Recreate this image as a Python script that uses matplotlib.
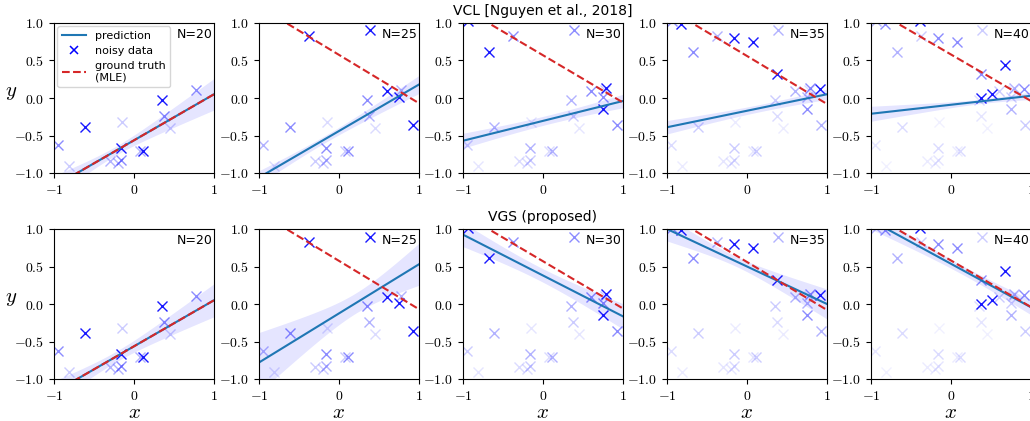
import matplotlib.pyplot as plt
import numpy as np
from matplotlib.ticker import FuncFormatter

plt.rcParams['mathtext.fontset'] = 'cm'

# number of observed points shown in each column
sizes = [20, 25, 30, 35, 40]

# noisy observations, oldest first; batch = step at which the point arrived
data_x = [-0.15, -0.81, 0.45,
          -0.20, 0.08, -0.30,
          -0.95, 0.38, -0.16, 0.77,
          0.35, -0.16, 0.11, -0.61,
          -0.37, 0.39, 0.75, 0.93, 0.60,
          -0.67, 0.75, 0.79, -0.94,
          -0.16, 0.07, 0.38, 0.91, -0.82,
          0.375, 0.51, 0.67, -0.39]
data_y = [-0.32, -0.90, -0.40,
          -0.86, -0.71, -0.84,
          -0.63, -0.24, -0.83, 0.11,
          -0.02, -0.67, -0.70, -0.38,
          0.83, 0.90, 0.01, -0.36, 0.10,
          0.61, -0.14, 0.14, 1.02,
          0.80, 0.75, 0.32, 0.12, 0.99,
          0.0, 0.06, 0.44, 1.02]
batch = [0, 0, 0,
         1, 1, 1,
         2, 2, 2, 2,
         3, 3, 3, 3,
         4, 4, 4, 4, 4,
         5, 5, 5, 5,
         6, 6, 6, 6, 6,
         7, 7, 7, 7]
age_alpha = [0.9, 0.45, 0.3, 0.2, 0.14, 0.1, 0.08, 0.06]

# ground truth (MLE) lines: slope, intercept
gt_slope = [0.614, -0.645, -0.63, -0.64, -0.62]
gt_icpt = [-0.564, 0.575, 0.57, 0.56, 0.58]

# predictions: slope, intercept, band half-width at x = -1, 0, 1
vcl_slope = [0.614, 0.62, 0.265, 0.22, 0.12]
vcl_icpt = [-0.564, -0.44, -0.305, -0.17, -0.09]
vcl_band = [(0.14, 0.07, 0.21), (0.09, 0.05, 0.12), (0.10, 0.06, 0.09),
            (0.09, 0.05, 0.07), (0.10, 0.04, 0.05)]

vgs_slope = [0.614, 0.655, -0.545, -0.5, -0.58]
vgs_icpt = [-0.564, -0.125, 0.38, 0.5, 0.536]
vgs_band = [(0.15, 0.08, 0.22), (0.40, 0.15, 0.28), (0.16, 0.09, 0.17),
            (0.16, 0.07, 0.20), (0.12, 0.06, 0.10)]

row_titles = ['VCL [Nguyen et al., 2018]', 'VGS (proposed)']

fig = plt.figure(figsize=(10.30, 4.21), dpi=100)
W, H = 1030.0, 421.0
lefts = [54, 259, 463, 667, 871]
tops = [23, 229]
aw, ah = 160, 150

xs = np.linspace(-1, 1, 200)
bx = np.array(data_x)
by = np.array(data_y)
bb = np.array(batch)

ytick_fmt = FuncFormatter(lambda v, p: '$%.1f$' % v)
xtick_fmt = FuncFormatter(lambda v, p: '$%d$' % round(v))

for r in range(2):
    slopes = vcl_slope if r == 0 else vgs_slope
    icpts = vcl_icpt if r == 0 else vgs_icpt
    bands = vcl_band if r == 0 else vgs_band
    for c in range(5):
        ax = fig.add_axes([lefts[c] / W, 1 - (tops[r] + ah) / H, aw / W, ah / H])
        cur = c + 3
        for b in range(cur + 1):
            m = bb == b
            ax.plot(bx[m], by[m], 'x', color='b', ms=6.5, mew=1.0,
                    alpha=age_alpha[cur - b])
        h1, h0, h2 = bands[c]
        var = h0**2 + (h2**2 - h1**2) / 2 * xs + ((h2**2 + h1**2) / 2 - h0**2) * xs**2
        sd = np.sqrt(var)
        mu = slopes[c] * xs + icpts[c]
        ax.fill_between(xs, mu - sd, mu + sd, color='b', alpha=0.1, lw=0)
        ax.plot(xs, mu, color='#1f77b4', lw=1.5)
        ax.plot(xs, gt_slope[c] * xs + gt_icpt[c], '--', color='#d62728', lw=1.5)
        ax.set_xlim(-1, 1)
        ax.set_ylim(-1, 1)
        ax.set_xticks([-1, 0, 1])
        ax.set_yticks([-1, -0.5, 0, 0.5, 1])
        ax.xaxis.set_major_formatter(xtick_fmt)
        ax.yaxis.set_major_formatter(ytick_fmt)
        ax.tick_params(labelsize=10)
        ax.text(0.99, 0.97, 'N=%d' % sizes[c], transform=ax.transAxes,
                ha='right', va='top', fontsize=9)
        if c == 0:
            ax.set_ylabel('$y$', fontsize=15, rotation=0, va='center', ha='center')
            ax.yaxis.set_label_coords(-0.27, 0.54)
        if r == 1:
            ax.set_xlabel('$x$', fontsize=15)
            ax.xaxis.set_label_coords(0.5, -0.155)
        if c == 2:
            ax.set_title(row_titles[r], fontsize=10, pad=6)
        if r == 0 and c == 0:
            h_pred, = ax.plot([], [], color='#1f77b4', lw=1.5)
            h_data, = ax.plot([], [], 'x', color='b', ms=6, mew=1.1)
            h_gt, = ax.plot([], [], '--', color='#d62728', lw=1.5)
            ax.legend([h_pred, h_data, h_gt],
                      ['prediction', 'noisy data', 'ground truth\n(MLE)'],
                      loc='upper left', fontsize=8, handlelength=2.2,
                      borderaxespad=0.3, labelspacing=0.45)

plt.savefig('out.png', dpi=100)
